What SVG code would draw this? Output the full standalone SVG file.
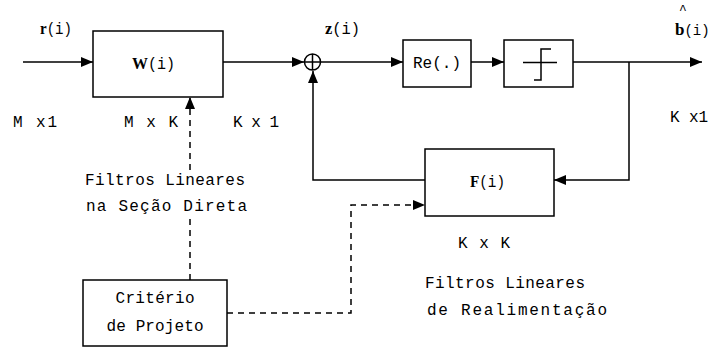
<svg xmlns="http://www.w3.org/2000/svg" width="710" height="349" viewBox="0 0 710 349">
<style>
.box{fill:#fff;stroke:#000;stroke-width:1.5}
.ln{fill:none;stroke:#000;stroke-width:1.5}
.dash{fill:none;stroke:#000;stroke-width:1.5;stroke-dasharray:6,5}
text{font-family:"Liberation Mono","DejaVu Sans Mono",monospace;font-size:16px;fill:#000}
.b{font-family:"Liberation Serif","DejaVu Serif",serif;font-weight:bold;font-size:17px}
</style>
<defs>
<marker id="ah" markerUnits="userSpaceOnUse" markerWidth="13" markerHeight="11" refX="12" refY="5" orient="auto">
<path d="M0,0 L12,5 L0,10 Z" fill="#000"/>
</marker>
</defs>
<rect width="710" height="349" fill="#fff"/>
<g id="connectors">
<line class="ln" x1="23" y1="62" x2="93" y2="62" marker-end="url(#ah)"/>
<line class="ln" x1="223" y1="62" x2="304" y2="62" marker-end="url(#ah)"/>
<line class="ln" x1="321" y1="62" x2="403" y2="62" marker-end="url(#ah)"/>
<line class="ln" x1="471" y1="62" x2="504" y2="62" marker-end="url(#ah)"/>
<line class="ln" x1="573" y1="62" x2="702" y2="62" marker-end="url(#ah)"/>
<polyline class="ln" points="629,62 629,180 554,180" marker-end="url(#ah)"/>
<polyline class="ln" points="425,180 313,180 313,71" marker-end="url(#ah)"/>
<line class="dash" x1="190" y1="280" x2="190" y2="218"/>
<line class="dash" x1="190" y1="170" x2="190" y2="97" marker-end="url(#ah)"/>
<polyline class="dash" points="227,313 351,313 351,205 425,205" marker-end="url(#ah)"/>
</g>
<g id="W">
<rect class="box" x="93" y="31" width="130" height="66"/>
<text x="132" y="69" textLength="43" lengthAdjust="spacingAndGlyphs"><tspan class="b">W</tspan>(i)</text>
</g>
<g id="sum">
<circle class="ln" cx="312.5" cy="62" r="8"/>
<line class="ln" x1="304.5" y1="62" x2="320.5" y2="62"/>
<line class="ln" x1="312.5" y1="54" x2="312.5" y2="70"/>
</g>
<g id="Re">
<rect class="box" x="403" y="40" width="68" height="47"/>
<text x="437" y="68" text-anchor="middle">Re(.)</text>
</g>
<g id="step">
<rect class="box" x="504" y="40" width="69" height="47"/>
<polyline class="ln" points="523,62.5 557,62.5"/>
<polyline class="ln" points="534,80 541,80 541,49 551,49"/>
</g>
<g id="F">
<rect class="box" x="425" y="149" width="129" height="67"/>
<text x="470" y="187" textLength="35" lengthAdjust="spacingAndGlyphs"><tspan class="b">F</tspan>(i)</text>
</g>
<g id="criterio">
<rect class="box" x="83" y="280" width="144" height="66"/>
<text x="155" y="303" text-anchor="middle" textLength="79" lengthAdjust="spacing">Critério</text>
<text x="155" y="331" text-anchor="middle" textLength="97" lengthAdjust="spacing">de Projeto</text>
</g>
<g id="labels">
<text x="40" y="34" textLength="32" lengthAdjust="spacingAndGlyphs"><tspan class="b">r</tspan>(i)</text>
<text x="325" y="34" textLength="35" lengthAdjust="spacingAndGlyphs"><tspan class="b">z</tspan>(i)</text>
<text x="679" y="14" style="font-size:13px">^</text>
<text x="675" y="35" style="font-size:14px"><tspan class="b">b</tspan>(i)</text>
<text x="13" y="127" textLength="44" lengthAdjust="spacing">M x1</text>
<text x="124" y="127" textLength="54" lengthAdjust="spacing">M x K</text>
<text x="233" y="127" textLength="46" lengthAdjust="spacing">K x 1</text>
<text x="670" y="122" textLength="38" lengthAdjust="spacing">K x1</text>
<text x="85" y="185" textLength="160" lengthAdjust="spacing">Filtros Lineares</text>
<text x="86" y="211" textLength="161" lengthAdjust="spacing">na Seção Direta</text>
<text x="458" y="248" textLength="52" lengthAdjust="spacing">K x K</text>
<text x="425" y="288" textLength="160" lengthAdjust="spacing">Filtros Lineares</text>
<text x="427" y="315" textLength="180" lengthAdjust="spacing">de Realimentação</text>
</g>
</svg>
